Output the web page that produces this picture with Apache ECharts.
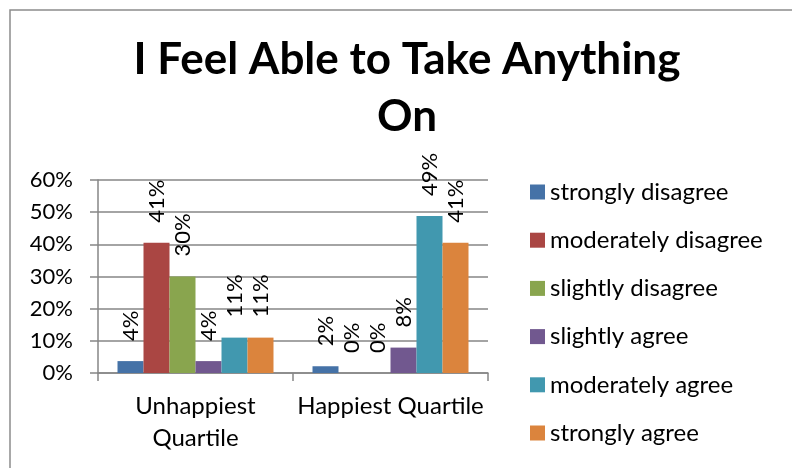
<!DOCTYPE html>
<html>
<head>
<meta charset="utf-8">
<script src="https://cdn.jsdelivr.net/npm/echarts@6/dist/echarts.min.js"></script>
<style>html,body{margin:0;padding:0;background:#fff;}#c{width:792px;height:468px;}</style>
</head>
<body>
<div id="c"></div>
<script>
const categories = ['Unhappiest\nQuartile', 'Happiest Quartile'];
const seriesNames = ['strongly disagree', 'moderately disagree', 'slightly disagree', 'slightly agree', 'moderately agree', 'strongly agree'];
const stronglyDisagree = [0.037, 0.021];
const moderatelyDisagree = [0.405, 0.0];
const slightlyDisagree = [0.30, 0.0];
const slightlyAgree = [0.037, 0.079];
const moderatelyAgree = [0.11, 0.488];
const stronglyAgree = [0.11, 0.405];
const yTicks = [0, 0.1, 0.2, 0.3, 0.4, 0.5, 0.6];
const colors = ['#4572A7', '#AA4643', '#89A54E', '#71588F', '#4198AF', '#DB843D'];

const values = [stronglyDisagree, moderatelyDisagree, slightlyDisagree, slightlyAgree, moderatelyAgree, stronglyAgree];
const FONT = 'Lato';
const chart = echarts.init(document.getElementById('c'), null, {renderer: 'canvas'});
chart.setOption({
  animation: false,
  backgroundColor: '#fff',
  color: colors,
  graphic: [{
    type: 'rect', shape: {x: 10, y: 10, width: 800, height: 500},
    style: {fill: 'none', stroke: '#8c8c8c', lineWidth: 1.5}, silent: true, z: -1
  }],
  title: {
    text: 'I Feel Able to Take Anything\nOn',
    left: 407, top: 31, textAlign: 'center', padding: 0,
    textStyle: {fontFamily: FONT, fontWeight: 'bold', fontSize: 44, lineHeight: 57, color: '#000'}
  },
  legend: {
    orient: 'vertical', left: 525, top: 175,
    icon: 'rect', itemWidth: 15, itemHeight: 15, itemGap: 24.2,
    data: seriesNames,
    textStyle: {fontFamily: FONT, fontSize: 24, lineHeight: 24, color: '#000'}
  },
  grid: {left: 98, top: 180, width: 390, height: 193, containLabel: false},
  xAxis: {
    type: 'category', data: categories,
    axisLine: {lineStyle: {color: '#868686', width: 1.5}},
    axisTick: {show: true, length: 8, lineStyle: {color: '#868686', width: 1.5}},
    axisLabel: {fontFamily: FONT, fontSize: 24, lineHeight: 32, color: '#000', margin: 17, interval: 0}
  },
  yAxis: {
    type: 'value', min: 0, max: 0.6, interval: 0.1,
    axisLine: {show: true, lineStyle: {color: '#868686', width: 1.5}},
    axisTick: {show: true, length: 8, lineStyle: {color: '#868686', width: 1.5}},
    splitLine: {lineStyle: {color: '#868686', width: 1.5}},
    axisLabel: {fontFamily: FONT, fontSize: 22, color: '#000', margin: 25,
      formatter: v => Math.round(v * 100) + '%'},
    data: yTicks
  },
  series: seriesNames.map((n, i) => ({
    name: n, type: 'bar', data: values[i],
    barGap: '0%', barCategoryGap: '20%',
    itemStyle: {color: colors[i]},
    label: {
      show: true, position: 'top', rotate: 90, align: 'left', verticalAlign: 'middle',
      distance: 16, offset: [4, 0], fontFamily: FONT, fontSize: 22, color: '#000',
      formatter: p => Math.round(p.value * 100) + '%'
    }
  }))
});
</script>
</body>
</html>
